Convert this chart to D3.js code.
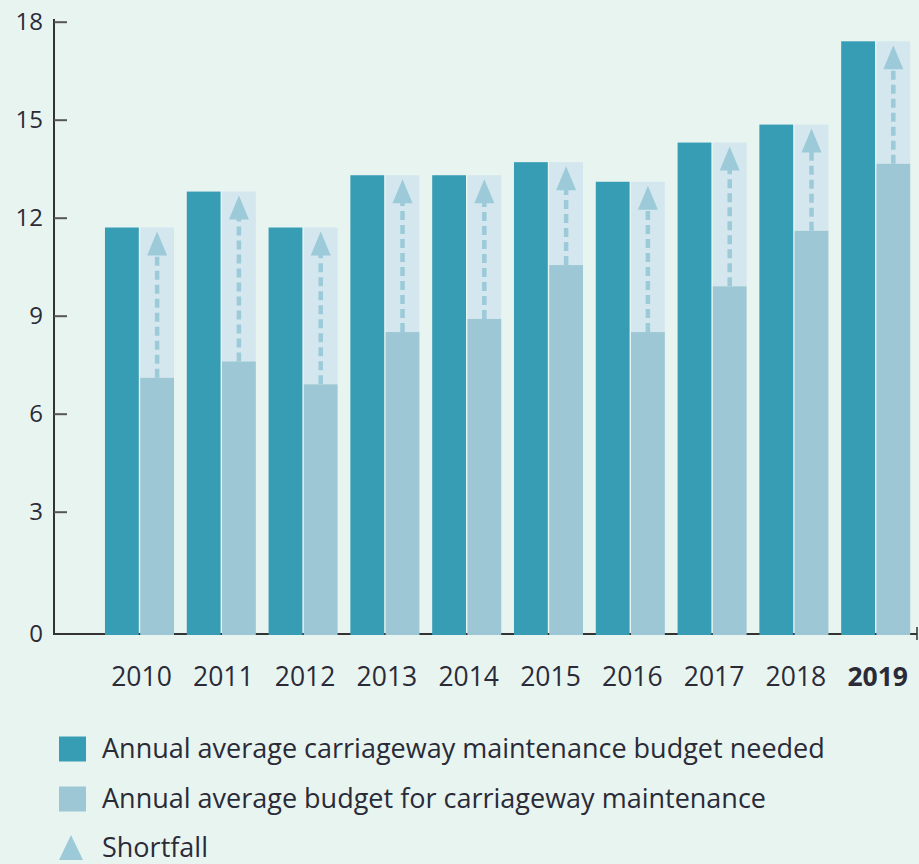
<!DOCTYPE html>
<html>
<head>
<meta charset="utf-8">
<script src="https://cdn.jsdelivr.net/npm/d3@7"></script>
<style>
  html, body { margin: 0; padding: 0; background: #e8f4f0; }
  svg { display: block; }
  text { font-family: "Open Sans", "Noto Sans", sans-serif; fill: #2b2b38; }
</style>
</head>
<body>
<svg id="chart" width="919" height="864"></svg>
<script>
const years = ["2010","2011","2012","2013","2014","2015","2016","2017","2018","2019"];
const needed = [11.7, 12.8, 11.7, 13.3, 13.3, 13.7, 13.1, 14.3, 14.85, 17.4];
const budget = [7.1, 7.6, 6.9, 8.5, 8.9, 10.55, 8.5, 9.9, 11.6, 13.65];
const yTicks = [0, 3, 6, 9, 12, 15, 18];
const legendLabels = [
  "Annual average carriageway maintenance budget needed",
  "Annual average budget for carriageway maintenance",
  "Shortfall"
];

const C_NEEDED = "#379db5", C_BUDGET = "#9dc7d5", C_GAP = "#d4e7ef", C_ARROW = "#9ccad8";

const svg = d3.select("#chart");
svg.append("rect").attr("width", 919).attr("height", 864).attr("fill", "#e8f4f0");

// Piecewise scale: the original axis has a larger gap between 0 and 3
const y = d3.scaleLinear().domain([0, 3, 18]).range([634, 511.7, 21.7]);
const x = d3.scaleBand().domain(years).range([98.6, 916.6]).paddingInner(0.156).paddingOuter(0.078);
const sub = d3.scaleBand().domain(["needed", "budget"]).range([0, x.bandwidth()]).paddingInner(0.04);

// baseline
svg.append("line")
  .attr("x1", 54).attr("x2", 917).attr("y1", y(0)).attr("y2", y(0))
  .attr("stroke", "#333").attr("stroke-width", 2);
svg.append("line")
  .attr("x1", 917).attr("x2", 917).attr("y1", y(0) - 7).attr("y2", y(0) + 6)
  .attr("stroke", "#333").attr("stroke-width", 1.5);

const data = years.map((yr, i) => ({ yr, need: needed[i], bud: budget[i] }));
const g = svg.append("g");
const grp = g.selectAll("g.grp").data(data).join("g").attr("class", "grp")
  .attr("transform", d => `translate(${x(d.yr)},0)`);

grp.append("rect")
  .attr("x", sub("needed")).attr("width", sub.bandwidth())
  .attr("y", d => y(d.need)).attr("height", d => y(0) + 1 - y(d.need))
  .attr("fill", C_NEEDED);

grp.append("rect")
  .attr("x", sub("budget")).attr("width", sub.bandwidth())
  .attr("y", d => y(d.need)).attr("height", d => y(d.bud) - y(d.need))
  .attr("fill", C_GAP);

grp.append("rect")
  .attr("x", sub("budget")).attr("width", sub.bandwidth())
  .attr("y", d => y(d.bud)).attr("height", d => y(0) + 1 - y(d.bud))
  .attr("fill", C_BUDGET);

const cx = sub("budget") + sub.bandwidth() / 2;
grp.append("line")
  .attr("x1", cx).attr("x2", cx)
  .attr("y1", d => y(d.bud)).attr("y2", d => y(d.need) + 20)
  .attr("stroke", C_ARROW).attr("stroke-width", 4.5)
  .attr("stroke-dasharray", "9,5");
grp.append("path")
  .attr("d", d => {
    const t = y(d.need) + 4;
    return `M${cx},${t} L${cx - 10},${t + 24} L${cx + 10},${t + 24} Z`;
  })
  .attr("fill", C_ARROW);

// y axis
const yAxis = d3.axisLeft(y).tickValues(yTicks).tickSizeInner(-13).tickSizeOuter(0).tickPadding(11);
const ya = svg.append("g").attr("transform", "translate(54,0)").call(yAxis);
ya.select(".domain").attr("stroke", "#333").attr("stroke-width", 2).attr("d", `M0,19V${y(0) + 1}`);
ya.selectAll(".tick line").attr("stroke", "#555").attr("stroke-width", 2);
ya.selectAll(".tick text").attr("font-size", 24).attr("fill", "#2b2b38");
ya.selectAll(".tick").filter(d => d === 0).select("line").remove();

// x labels
svg.append("g").selectAll("text").data(years).join("text")
  .attr("x", d => x(d) + x.bandwidth() / 2 + 2)
  .attr("y", 686)
  .attr("text-anchor", "middle")
  .attr("font-size", 26.5)
  .attr("font-weight", d => d === "2019" ? 700 : 400)
  .text(d => d);

// legend
const lg = svg.append("g");
const rowY = [749, 799, 848];
lg.append("rect").attr("x", 59).attr("y", rowY[0] - 12.5).attr("width", 27).attr("height", 25).attr("fill", C_NEEDED);
lg.append("rect").attr("x", 59).attr("y", rowY[1] - 12.5).attr("width", 27).attr("height", 25).attr("fill", C_BUDGET);
lg.append("path").attr("d", `M71,${rowY[2] - 13} L59,${rowY[2] + 12} L83,${rowY[2] + 12} Z`).attr("fill", C_ARROW);
lg.selectAll("text").data(legendLabels).join("text")
  .attr("x", 102).attr("y", (d, i) => rowY[i])
  .attr("dy", "0.35em")
  .attr("font-size", 27)
  .text(d => d);
</script>
</body>
</html>
